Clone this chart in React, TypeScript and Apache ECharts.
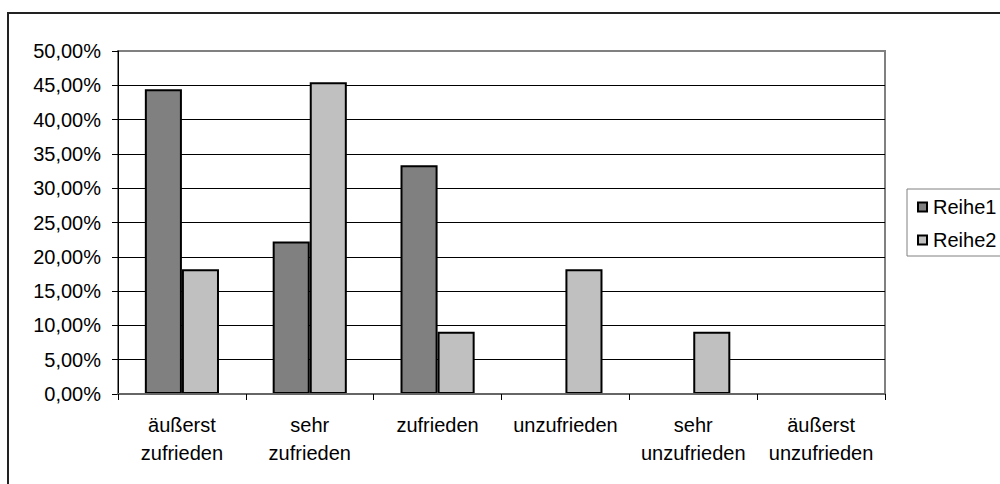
import React, { useEffect, useRef } from "react";
import * as echarts from "echarts";

const categories = [
  "äußerst\nzufrieden",
  "sehr\nzufrieden",
  "zufrieden",
  "unzufrieden",
  "sehr\nunzufrieden",
  "äußerst\nunzufrieden",
];
const reihe1 = [0.4444, 0.2222, 0.3333, 0, 0, 0];
const reihe2 = [0.1818, 0.4545, 0.0909, 0.1818, 0.0909, 0];
const seriesNames = ["Reihe1", "Reihe2"];
const FONT = "'Liberation Sans', Arial, sans-serif";

const toItems = (arr: number[]) =>
  arr.map((v) => (v === 0 ? { value: v, itemStyle: { borderWidth: 0 } } : v));

export default function App() {
  const ref = useRef<HTMLDivElement>(null);
  useEffect(() => {
    if (!ref.current) return;
    const chart = echarts.init(ref.current, null, { renderer: "svg" });
    chart.setOption({
      animation: false,
      backgroundColor: "#ffffff",
      textStyle: { fontFamily: FONT },
      graphic: [
        {
          type: "rect",
          shape: { x: 8, y: 13, width: 1100, height: 600 },
          style: { fill: "none", stroke: "#222", lineWidth: 2 },
          silent: true,
          z: 100,
        },
      ],
      grid: {
        left: 118,
        right: 115,
        top: 51,
        bottom: 90,
        show: true,
        borderColor: "#808080",
        borderWidth: 2,
        backgroundColor: "#ffffff",
      },
      legend: {
        orient: "vertical",
        left: 907,
        top: 189,
        data: seriesNames,
        icon: "rect",
        backgroundColor: "#ffffff",
        borderColor: "#808080",
        borderWidth: 1,
        borderRadius: 0,
        padding: [7, 12, 5, 10],
        itemGap: 11,
        itemWidth: 9,
        itemHeight: 9,
        itemStyle: { borderColor: "#000", borderWidth: 2 },
        textStyle: {
          fontFamily: FONT,
          fontSize: 20,
          color: "#000",
          lineHeight: 22,
          padding: [0, 0, 0, 1],
        },
      },
      xAxis: {
        type: "category",
        data: categories,
        z: 5,
        axisLine: { show: true, lineStyle: { color: "#666", width: 2 } },
        axisTick: { show: true, length: 6, lineStyle: { color: "#000", width: 1 } },
        axisLabel: {
          interval: 0,
          margin: 17,
          fontFamily: FONT,
          fontSize: 20,
          lineHeight: 28,
          color: "#000",
        },
        splitLine: { show: false },
      },
      yAxis: {
        type: "value",
        min: 0,
        max: 0.5,
        interval: 0.05,
        axisLine: { show: true, lineStyle: { color: "#000", width: 1 } },
        axisTick: { show: true, length: 6, lineStyle: { color: "#000", width: 1 } },
        axisLabel: {
          margin: 17,
          fontFamily: FONT,
          fontSize: 20,
          color: "#000",
          formatter: (v: number) => (v * 100).toFixed(2).replace(".", ",") + "%",
        },
        splitLine: {
          show: true,
          showMinLine: false,
          showMaxLine: false,
          lineStyle: { color: "#000", width: 1 },
        },
      },
      series: [
        {
          name: seriesNames[0],
          type: "bar",
          data: toItems(reihe1),
          barGap: "0%",
          barCategoryGap: "42%",
          itemStyle: { color: "#808080", borderColor: "#000", borderWidth: 2 },
        },
        {
          name: seriesNames[1],
          type: "bar",
          data: toItems(reihe2),
          barGap: "0%",
          barCategoryGap: "42%",
          itemStyle: { color: "#c0c0c0", borderColor: "#000", borderWidth: 2 },
        },
      ],
    });
    return () => chart.dispose();
  }, []);
  return (
    <div
      ref={ref}
      style={{ position: "absolute", left: 0, top: 0, width: 1000, height: 484 }}
    />
  );
}
